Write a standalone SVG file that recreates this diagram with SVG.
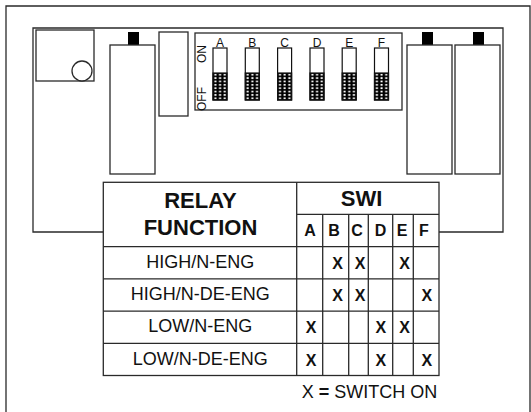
<svg xmlns="http://www.w3.org/2000/svg" width="531" height="412" viewBox="0 0 531 412">
<style>
.ln{fill:none;stroke:#2a2a2a;stroke-width:1.3}
.bx{fill:#fff;stroke:#2a2a2a;stroke-width:1.3}
.tab{fill:#000}
.t{font-family:"Liberation Sans",Arial,sans-serif;fill:#111}
.hb{font-size:22px;font-weight:bold;text-anchor:middle}
.cl{font-size:16px;font-weight:bold;text-anchor:middle}
.rw{font-size:18px;text-anchor:middle}
.sm{font-size:12px}
.sl{font-size:12px;text-anchor:middle}
.x{font-size:16px;font-weight:bold;text-anchor:middle}
.sw{fill:#fff;stroke:#111;stroke-width:1.2}
.dot{fill:url(#dots);stroke:#111;stroke-width:1.2}
</style>
<defs>
<pattern id="dots" patternUnits="objectBoundingBox" x="0" y="0" width="0.3333" height="0.125">
<rect width="4.7" height="3.4" fill="#000"/>
<rect x="1.4" y="0.8" width="2" height="1.8" fill="#fff"/>
</pattern>
</defs>
<rect width="531" height="412" fill="#fff"/>
<g id="frame"><path class="ln" d="M6,420 V6 H530 V420"/></g>
<g id="board"><path class="ln" d="M103,232 H33 V28 H503 V232 H439"/></g>
<g id="square"><rect class="bx" x="36" y="30" width="58" height="51"/><circle class="bx" cx="82" cy="71" r="10"/></g>
<g id="relay1"><rect class="tab" x="128" y="32" width="11" height="13"/><rect class="bx" x="110" y="45" width="45" height="129"/></g>
<g id="block"><rect class="bx" x="159" y="32" width="29" height="84"/></g>
<g id="relay3"><rect class="tab" x="422" y="32" width="11" height="13"/><rect class="bx" x="407" y="45" width="45" height="129"/></g>
<g id="relay4"><rect class="tab" x="473" y="32" width="11" height="13"/><rect class="bx" x="455" y="45" width="45" height="129"/></g>
<g id="dip">
<rect class="bx" x="195" y="33" width="207" height="77"/>
<text class="t sm" transform="translate(205.5,63) rotate(-90)">ON</text>
<text class="t sm" transform="translate(205.5,111) rotate(-90)">OFF</text>
<g id="swA"><rect class="sw" x="213" y="48" width="14" height="52"/><rect class="dot" x="213" y="73" width="14" height="27"/><text class="t sl" x="220" y="47">A</text></g>
<g id="swB"><rect class="sw" x="245.3" y="48" width="14" height="52"/><rect class="dot" x="245.3" y="73" width="14" height="27"/><text class="t sl" x="252.3" y="47">B</text></g>
<g id="swC"><rect class="sw" x="277.6" y="48" width="14" height="52"/><rect class="dot" x="277.6" y="73" width="14" height="27"/><text class="t sl" x="284.6" y="47">C</text></g>
<g id="swD"><rect class="sw" x="310" y="48" width="14" height="52"/><rect class="dot" x="310" y="73" width="14" height="27"/><text class="t sl" x="317" y="47">D</text></g>
<g id="swE"><rect class="sw" x="342.2" y="48" width="14" height="52"/><rect class="dot" x="342.2" y="73" width="14" height="27"/><text class="t sl" x="349.2" y="47">E</text></g>
<g id="swF"><rect class="sw" x="374.5" y="48" width="14" height="52"/><rect class="dot" x="374.5" y="73" width="14" height="27"/><text class="t sl" x="381.5" y="47">F</text></g>
</g>
<g id="table">
<rect class="ln" x="103.3" y="182.3" width="335.7" height="193.2"/>
<path class="ln" d="M296.7,182.3 V375.5 M296.7,214.3 H439 M103.3,246.7 H439 M103.3,278.9 H439 M103.3,311.1 H439 M103.3,343.3 H439 M322.7,214.3 V375.5 M348.7,214.3 V375.5 M368.3,214.3 V375.5 M392.7,214.3 V375.5 M413.3,214.3 V375.5"/>
<text class="t hb" x="200.5" y="208">RELAY</text>
<text class="t hb" x="200.5" y="235">FUNCTION</text>
<text class="t hb" x="361.5" y="206">SWI</text>
<text class="t cl" x="310" y="236">A</text>
<text class="t cl" x="334" y="236">B</text>
<text class="t cl" x="357" y="236">C</text>
<text class="t cl" x="380.5" y="236">D</text>
<text class="t cl" x="402" y="236">E</text>
<text class="t cl" x="424" y="236">F</text>
<text class="t rw" x="200.3" y="268">HIGH/N-ENG</text>
<text class="t rw" x="200.3" y="300.2">HIGH/N-DE-ENG</text>
<text class="t rw" x="200.3" y="332.4">LOW/N-ENG</text>
<text class="t rw" x="200.3" y="364.6">LOW/N-DE-ENG</text>
<text class="t x" x="337.5" y="269">X</text>
<text class="t x" x="360" y="269">X</text>
<text class="t x" x="404.5" y="269">X</text>
<text class="t x" x="337.5" y="301.2">X</text>
<text class="t x" x="360" y="301.2">X</text>
<text class="t x" x="426.8" y="301.2">X</text>
<text class="t x" x="311" y="333.4">X</text>
<text class="t x" x="380.8" y="333.4">X</text>
<text class="t x" x="404.5" y="333.4">X</text>
<text class="t x" x="311" y="365.6">X</text>
<text class="t x" x="380.8" y="365.6">X</text>
<text class="t x" x="426.8" y="365.6">X</text>
</g>
<g id="legend"><text class="t" x="301.7" y="397.5" style="font-size:18px">X <tspan font-weight="bold">=</tspan> SWITCH ON</text></g>
</svg>
